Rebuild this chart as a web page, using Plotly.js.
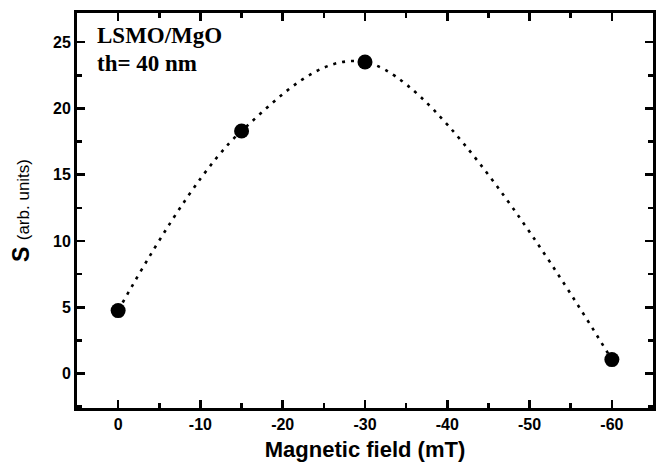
<!DOCTYPE html>
<html>
<head>
<meta charset="utf-8">
<script src="https://cdn.plot.ly/plotly-3.0.1.min.js"></script>
<style>html,body{margin:0;padding:0;background:#fff;}#chart{width:664px;height:467px;}</style>
</head>
<body>
<div id="chart"></div>
<script>
// Data
const fieldMT = [0, -15, -30, -60];
const signalS = [4.75, 18.3, 23.5, 1.05];
const xTickVals = [0, -10, -20, -30, -40, -50, -60];
const xTickText = ['0', '-10', '-20', '-30', '-40', '-50', '-60'];
const yTickVals = [0, 5, 10, 15, 20, 25];
const yTickText = ['0', '5', '10', '15', '20', '25'];

const tickFont = {family: 'Liberation Sans, Arial, sans-serif', size: 16, color: '#000', weight: 'bold'};

const traces = [
  {
    x: fieldMT, y: signalS, mode: 'lines', type: 'scatter',
    line: {shape: 'spline', smoothing: 1.0, color: '#000', width: 2.6, dash: '3px,6px'},
    hoverinfo: 'skip', showlegend: false
  },
  {
    x: fieldMT, y: signalS, mode: 'markers', type: 'scatter',
    marker: {size: 15, color: '#000'},
    showlegend: false
  }
];

const axisCommon = {
  showline: true, linewidth: 3, linecolor: '#000', mirror: 'ticks',
  ticks: 'inside', ticklen: 8, tickwidth: 2.5, tickcolor: '#000',
  showgrid: false, zeroline: false, tickfont: tickFont
};

const layout = {
  width: 664, height: 467,
  margin: {l: 77, r: 11, t: 13, b: 59},
  paper_bgcolor: '#fff', plot_bgcolor: '#fff',
  xaxis: Object.assign({}, axisCommon, {
    range: [5, -65], tickvals: xTickVals, ticktext: xTickText,
    minor: {dtick: 5, tick0: 0, ticks: 'inside', ticklen: 5, tickwidth: 2.5, tickcolor: '#000'},
    title: {text: 'Magnetic field (mT)', font: {family: 'Liberation Sans, Arial, sans-serif', size: 22, color: '#000', weight: 'bold'}, standoff: 10}
  }),
  yaxis: Object.assign({}, axisCommon, {
    range: [-2.6, 27.2], tickvals: yTickVals, ticktext: yTickText,
    minor: {dtick: 2.5, tick0: 0, ticks: 'inside', ticklen: 5, tickwidth: 2.5, tickcolor: '#000'},
    title: {text: '<b>S</b> <span style="font-size:17px">(arb. units)</span>', font: {family: 'Liberation Sans, Arial, sans-serif', size: 23, color: '#000'}, standoff: 17}
  }),
  annotations: [
    {text: '<b>LSMO/MgO</b>', xref: 'paper', yref: 'paper', x: 0.031, y: 0.944, xanchor: 'left', yanchor: 'middle', showarrow: false,
     font: {family: 'Liberation Serif, Times New Roman, serif', size: 23, color: '#000'}},
    {text: '<b>th= 40 nm</b>', xref: 'paper', yref: 'paper', x: 0.031, y: 0.873, xanchor: 'left', yanchor: 'middle', showarrow: false,
     font: {family: 'Liberation Serif, Times New Roman, serif', size: 23, color: '#000'}}
  ]
};

Plotly.newPlot('chart', traces, layout, {displayModeBar: false, staticPlot: true});
</script>
</body>
</html>
